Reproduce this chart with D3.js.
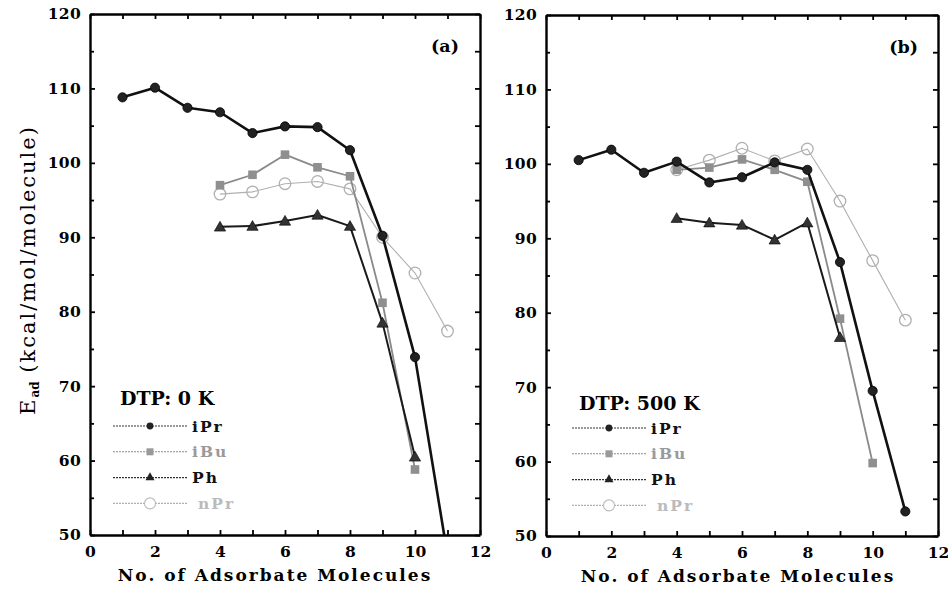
<!DOCTYPE html>
<html><head><meta charset="utf-8">
<script src="https://cdn.jsdelivr.net/npm/d3@7"></script>
<style>
html,body{margin:0;padding:0;background:#fff;}
svg{display:block;}
</style>
</head><body>
<svg id="chart" width="948" height="597"></svg>
<script>
// ---- data ----
const xTickValues = [0, 2, 4, 6, 8, 10, 12];
const yTickValues = [50, 60, 70, 80, 90, 100, 110, 120];
const seriesNames = ["iPr", "iBu", "Ph", "nPr"];

// Panel (a): DTP 0 K
const iPrA_x = [1, 2, 3, 4, 5, 6, 7, 8, 9, 10, 11];
const iPrA = [108.8, 110.1, 107.4, 106.8, 104.0, 104.9, 104.8, 101.7, 90.2, 73.9, 47.3];
const iBuA_x = [4, 5, 6, 7, 8, 9, 10];
const iBuA = [97.0, 98.4, 101.1, 99.4, 98.2, 81.2, 58.8];
const PhA_x = [4, 5, 6, 7, 8, 9, 10];
const PhA = [91.4, 91.5, 92.2, 93.0, 91.5, 78.5, 60.5];
const nPrA_x = [4, 5, 6, 7, 8, 9, 10, 11];
const nPrA = [95.8, 96.1, 97.2, 97.5, 96.5, 90.0, 85.2, 77.4];

// Panel (b): DTP 500 K
const iPrB_x = [1, 2, 3, 4, 5, 6, 7, 8, 9, 10, 11];
const iPrB = [100.5, 101.9, 98.8, 100.3, 97.5, 98.2, 100.2, 99.2, 86.8, 69.5, 53.3];
const iBuB_x = [4, 5, 6, 7, 8, 9, 10];
const iBuB = [99.2, 99.5, 100.6, 99.2, 97.6, 79.2, 59.8];
const PhB_x = [4, 5, 6, 7, 8, 9];
const PhB = [92.7, 92.1, 91.8, 89.8, 92.1, 76.7];
const nPrB_x = [4, 5, 6, 7, 8, 9, 10, 11];
const nPrB = [99.2, 100.5, 102.1, 100.4, 102.0, 95.0, 87.0, 79.0];

// ---- styles ----
const style = {
  iPr: {stroke: "#111", width: 2.6, marker: "circle", fill: "#222", text: "#111"},
  iBu: {stroke: "#8a8a8a", width: 1.8, marker: "square", fill: "#8f8f8f", text: "#9a9a9a"},
  Ph:  {stroke: "#1a1a1a", width: 2.0, marker: "triangle", fill: "#333", text: "#111"},
  nPr: {stroke: "#b0b0b0", width: 1.1, marker: "open", fill: "none", text: "#bbbbbb"}
};

const svg = d3.select("#chart");
const FONT = "'DejaVu Serif', 'Liberation Serif', serif";

function pairs(xs, ys) { return xs.map((x, i) => ({x: x, y: ys[i]})); }

function drawMarker(g, kind, cx, cy, st) {
  if (kind === "circle") {
    g.append("circle").attr("cx", cx).attr("cy", cy).attr("r", 4.6).attr("fill", st.fill).attr("stroke", "#000").attr("stroke-width", 0.8);
  } else if (kind === "square") {
    g.append("rect").attr("x", cx - 4.3).attr("y", cy - 4.3).attr("width", 8.6).attr("height", 8.6).attr("fill", st.fill);
  } else if (kind === "triangle") {
    g.append("path").attr("d", d3.symbol().type(d3.symbolTriangle).size(55)()).attr("transform", `translate(${cx},${cy + 1})`).attr("fill", st.fill).attr("stroke", "#000").attr("stroke-width", 0.6);
  } else {
    g.append("circle").attr("cx", cx).attr("cy", cy).attr("r", 5.8).attr("fill", "#fff").attr("fill-opacity", 0).attr("stroke", st.stroke).attr("stroke-width", 1.3);
  }
}

function drawPanel(cfg) {
  const x = d3.scaleLinear().domain([0, 12]).range([cfg.left, cfg.right]);
  const y = d3.scaleLinear().domain([50, 120]).range([cfg.bottom, cfg.top]);
  const g = svg.append("g");

  const clipId = "clip" + cfg.id;
  svg.append("clipPath").attr("id", clipId).append("rect")
    .attr("x", cfg.left).attr("y", cfg.top).attr("width", cfg.right - cfg.left).attr("height", cfg.bottom - cfg.top);

  // axes with inward ticks
  const xMinor = d3.range(0, 13, 1);
  const yMinor = d3.range(50, 121, 5);
  const axB = d3.axisBottom(x).tickValues(xMinor).tickSizeInner(-5).tickSizeOuter(0).tickFormat(d => xTickValues.includes(d) ? d : "");
  const axT = d3.axisTop(x).tickValues(xMinor).tickSizeInner(-5).tickSizeOuter(0).tickFormat("");
  const axL = d3.axisLeft(y).tickValues(yMinor).tickSizeInner(-5).tickSizeOuter(0).tickFormat(d => yTickValues.includes(d) ? d : "");
  const axR = d3.axisRight(y).tickValues(yMinor).tickSizeInner(-5).tickSizeOuter(0).tickFormat("");

  const gb = g.append("g").attr("transform", `translate(0,${cfg.bottom})`).call(axB);
  const gt = g.append("g").attr("transform", `translate(0,${cfg.top})`).call(axT);
  const gl = g.append("g").attr("transform", `translate(${cfg.left},0)`).call(axL);
  const gr = g.append("g").attr("transform", `translate(${cfg.right},0)`).call(axR);
  [gb, gt, gl, gr].forEach(a => {
    a.select(".domain").attr("stroke", "#000").attr("stroke-width", 2.4);
    a.selectAll(".tick line").attr("stroke", "#000").attr("stroke-width", 1.8);
    a.selectAll("text").attr("font-family", FONT).attr("font-weight", "bold").attr("font-size", 15.5).attr("fill", "#000");
  });
  gb.selectAll("text").attr("dy", "1.2em");
  gl.selectAll("text").attr("x", -9).attr("letter-spacing", 0.3);
  gl.selectAll(".tick").filter(d => !yTickValues.includes(d)).select("line").attr("x2", 4);

  // series
  const data = {
    iPr: pairs(cfg.series.iPr[0], cfg.series.iPr[1]),
    iBu: pairs(cfg.series.iBu[0], cfg.series.iBu[1]),
    Ph: pairs(cfg.series.Ph[0], cfg.series.Ph[1]),
    nPr: pairs(cfg.series.nPr[0], cfg.series.nPr[1])
  };
  const line = d3.line().x(d => x(d.x)).y(d => y(d.y));
  const plot = g.append("g").attr("clip-path", `url(#${clipId})`);
  ["nPr", "iBu", "Ph", "iPr"].forEach(name => {
    const st = style[name];
    plot.append("path").datum(data[name]).attr("d", line)
      .attr("fill", "none").attr("stroke", st.stroke).attr("stroke-width", st.width).attr("stroke-linejoin", "round");
    data[name].forEach(p => drawMarker(plot, st.marker, x(p.x), y(p.y), st));
  });

  // panel label
  g.append("text").attr("x", cfg.labelX).attr("y", cfg.top + 38).attr("text-anchor", "end")
    .attr("font-family", FONT).attr("font-weight", "bold").attr("font-size", 17.5).text(cfg.label);

  // legend
  g.append("text").attr("x", cfg.legX).attr("y", cfg.legTitleY)
    .attr("font-family", FONT).attr("font-weight", "bold").attr("font-size", 19).text(cfg.legTitle);
  seriesNames.forEach((name, i) => {
    const st = style[name];
    const ly = cfg.legY0 + i * 25.8;
    g.append("line").attr("x1", cfg.legX - 7).attr("x2", cfg.legX + 67).attr("y1", ly).attr("y2", ly)
      .attr("stroke", name === "iPr" || name === "Ph" ? "#333" : st.stroke).attr("stroke-width", 1.1).attr("stroke-dasharray", "2,1");
    if (st.marker === "circle") {
      g.append("circle").attr("cx", cfg.legX + 30).attr("cy", ly).attr("r", 3.4).attr("fill", "#222");
    } else if (st.marker === "square") {
      g.append("rect").attr("x", cfg.legX + 26.5).attr("y", ly - 3.5).attr("width", 7).attr("height", 7).attr("fill", "#999");
    } else if (st.marker === "triangle") {
      g.append("path").attr("d", d3.symbol().type(d3.symbolTriangle).size(36)()).attr("transform", `translate(${cfg.legX + 30},${ly})`).attr("fill", "#222");
    } else {
      g.append("circle").attr("cx", cfg.legX + 30).attr("cy", ly).attr("r", 5.5).attr("fill", "#fff").attr("stroke", "#bbb").attr("stroke-width", 1.1);
    }
    g.append("text").attr("x", cfg.legX + 72 + (name === "nPr" ? 6 : 0)).attr("y", ly + 5.5)
      .attr("font-family", FONT).attr("font-weight", "bold").attr("font-size", 15.5).attr("letter-spacing", 2)
      .attr("fill", st.text).text(name);
  });

  // x title
  g.append("text").attr("x", (cfg.left + cfg.right) / 2 + cfg.titleDx).attr("y", cfg.bottom + 46).attr("text-anchor", "middle")
    .attr("font-family", FONT).attr("font-weight", "bold").attr("font-size", 17).attr("letter-spacing", 2)
    .text("No. of Adsorbate Molecules");
}

drawPanel({
  id: "a", left: 90, right: 480, top: 14, bottom: 535, label: "(a)", labelX: 459, titleDx: -10,
  legTitle: "DTP: 0 K", legX: 120, legTitleY: 405, legY0: 426,
  series: {iPr: [iPrA_x, iPrA], iBu: [iBuA_x, iBuA], Ph: [PhA_x, PhA], nPr: [nPrA_x, nPrA]}
});
drawPanel({
  id: "b", left: 546, right: 938, top: 15, bottom: 536, label: "(b)", labelX: 918, titleDx: -4,
  legTitle: "DTP: 500 K", legX: 579, legTitleY: 410, legY0: 428,
  series: {iPr: [iPrB_x, iPrB], iBu: [iBuB_x, iBuB], Ph: [PhB_x, PhB], nPr: [nPrB_x, nPrB]}
});

// y-axis title
const yt = svg.append("text").attr("transform", "translate(35,270) rotate(-90)").attr("text-anchor", "middle")
  .attr("font-family", FONT).attr("font-size", 21).attr("letter-spacing", 2);
yt.append("tspan").text("E");
yt.append("tspan").attr("font-size", 12).attr("dy", 4).attr("font-weight", "bold").attr("letter-spacing", 0).text("ad");
yt.append("tspan").attr("dy", -4).text(" (kcal/mol/molecule)");
</script>
</body></html>
